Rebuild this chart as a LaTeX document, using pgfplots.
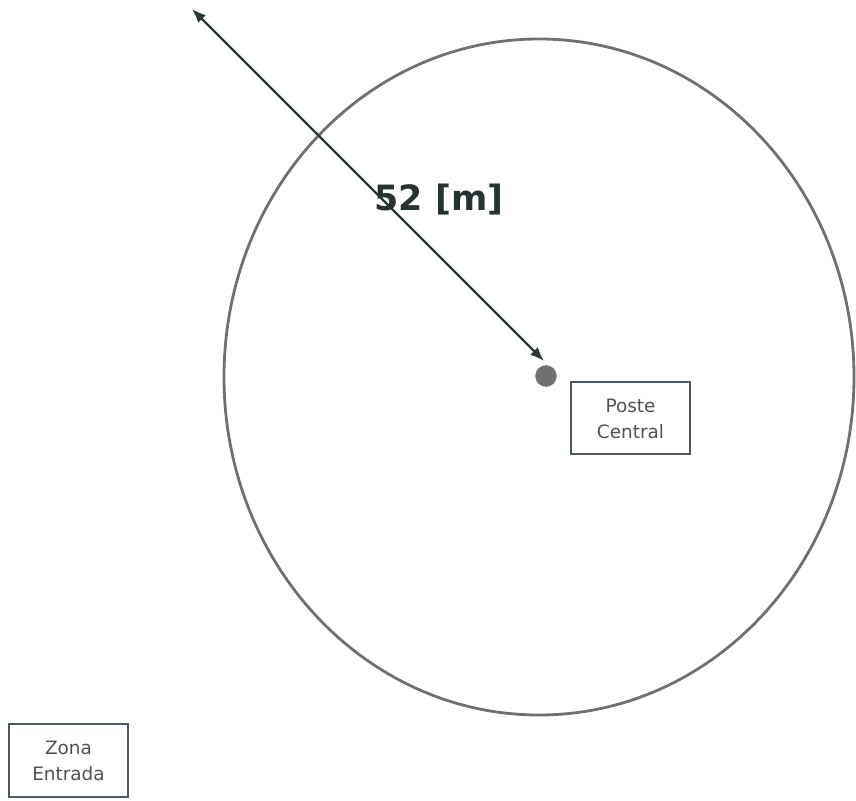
\documentclass[border=0pt]{standalone}
\usepackage{pgfplots}
\pgfplotsset{compat=1.18}
\usepackage{fontspec}
\setmainfont{DejaVu Sans}
\usetikzlibrary{arrows.meta}
\definecolor{ringgray}{HTML}{707070}
\definecolor{arrowdark}{HTML}{2B3838}
\definecolor{boxline}{HTML}{4A5A60}
\definecolor{txtgray}{HTML}{505050}
\begin{document}
\begin{tikzpicture}
\begin{axis}[
  width=856bp, height=801bp, scale only axis,
  xmin=0, xmax=856, ymin=0, ymax=801, y dir=reverse,
  hide axis, clip=false,
]
% ellipse (circle of radius 52 m)
\draw[ringgray, line width=2.8bp] (axis cs:539,377) ellipse [x radius=315, y radius=338];
% radius arrow
\addplot[arrowdark, line width=2.4bp, {Latex[length=14bp,width=11bp]}-{Latex[length=14bp,width=11bp]}] coordinates {(192,9) (544,361)};
% central post dot
\addplot[only marks, mark=*, mark size=10.5bp, ringgray, mark options={fill=ringgray, draw=ringgray}] coordinates {(546,376)};
% label
\node[font=\fontsize{35}{38}\selectfont\bfseries, text=arrowdark!90!black, anchor=base] at (axis cs:439,211) {52 [m]};
% boxes
\draw[boxline, line width=1.2bp] (axis cs:571,382) rectangle (axis cs:690,454);
\node[font=\fontsize{18.5}{26}\selectfont, text=txtgray, align=center] at (axis cs:630.5,419) {Poste\\Central};
\draw[boxline, line width=1.2bp] (axis cs:9,724) rectangle (axis cs:128,797);
\node[font=\fontsize{18.5}{26}\selectfont, text=txtgray, align=center] at (axis cs:68.5,761) {Zona\\Entrada};
\end{axis}
\pgfresetboundingbox
\path (0,0) rectangle (856bp,801bp);
\end{tikzpicture}
\end{document}
